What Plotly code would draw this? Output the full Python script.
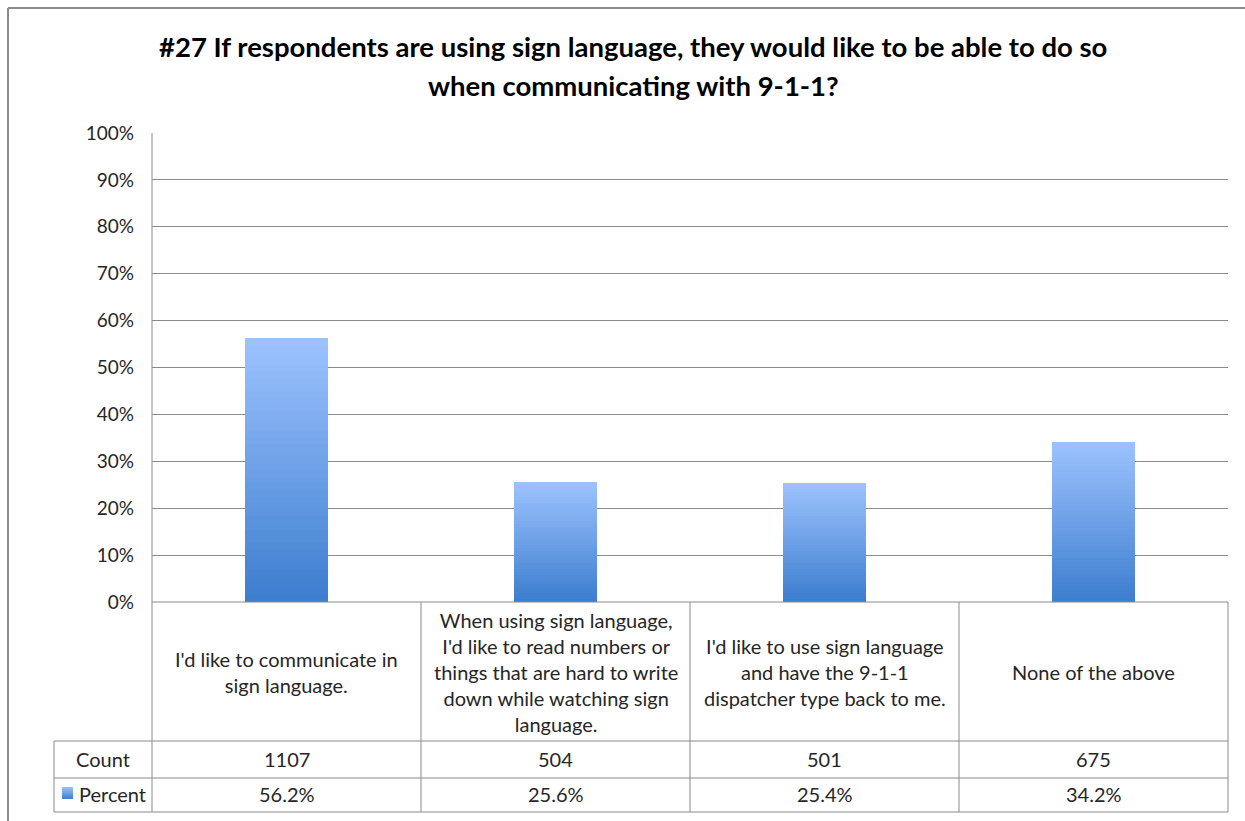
import plotly.graph_objects as go

# ---- data ----
categories = [
    "I'd like to communicate in<br>sign language.",
    "When using sign language,<br>I'd like to read numbers or<br>things that are hard to write<br>down while watching sign<br>language.",
    "I'd like to use sign language<br>and have the 9-1-1<br>dispatcher type back to me.",
    "None of the above",
]
counts = [1107, 504, 501, 675]
percents = [56.2, 25.6, 25.4, 34.2]
y_ticks = list(range(0, 101, 10))
title_lines = [
    "#27 If respondents are using sign language, they would like to be able to do so",
    "when communicating with 9-1-1?",
]
row_labels = ["Count", "Percent"]

W, H = 1245, 821
FONT = "Lato"
TXT = "#262626"
GRID = "#8a8a8a"

def px(x):
    return x / W

def py(y):
    return 1 - y / H

# plot-area geometry (pixels)
X0, X1 = 152, 1228
Y_TOP, Y_BOT = 133, 602
ROW_HDR_BOT, ROW_CNT_BOT, ROW_PCT_BOT = 741, 778, 812
TBL_LEFT = 54

fig = go.Figure()

# gradient bars: stacked slices of each bar
N = 40
top_c = (157, 195, 255)
bot_c = (60, 125, 206)
xs = list(range(len(categories)))
for i in range(N):
    t = (i + 0.5) / N
    c = tuple(round(bot_c[k] + (top_c[k] - bot_c[k]) * t) for k in range(3))
    fig.add_trace(go.Bar(
        x=xs,
        y=[v / N for v in percents],
        base=[v * i / N for v in percents],
        width=0.31,
        marker=dict(color="rgb(%d,%d,%d)" % c, line=dict(width=0)),
        showlegend=False,
        hoverinfo="skip",
    ))

shapes = []
def line(x0, y0, x1, y1, color=GRID, w=1):
    shapes.append(dict(type="line", xref="paper", yref="paper",
                       x0=px(x0), y0=py(y0), x1=px(x1), y1=py(y1),
                       line=dict(color=color, width=w)))

# outer chart border
line(8, 8, 1245, 8, "#8c8c8c", 2)
line(8, 8, 8, 821, "#8c8c8c", 2)

# table lines
line(X0, Y_BOT, X1, Y_BOT)
for yy in (ROW_HDR_BOT, ROW_CNT_BOT, ROW_PCT_BOT):
    line(TBL_LEFT, yy, X1, yy)
line(X0, Y_TOP, X0, ROW_PCT_BOT)
line(TBL_LEFT, ROW_HDR_BOT, TBL_LEFT, ROW_PCT_BOT)
colw = (X1 - X0) / len(categories)
for k in range(1, len(categories) + 1):
    xx = X0 + colw * k
    line(xx, Y_BOT, xx, ROW_PCT_BOT)

# legend key square (gradient like the bars)
KN = 6
for i in range(KN):
    t = (i + 0.5) / KN
    c = tuple(round(bot_c[k] + (top_c[k] - bot_c[k]) * t) for k in range(3))
    shapes.append(dict(type="rect", xref="paper", yref="paper",
                       x0=px(62), x1=px(73),
                       y0=py(799 - 12 * i / KN), y1=py(799 - 12 * (i + 1) / KN),
                       line=dict(width=0), fillcolor="rgb(%d,%d,%d)" % c))

annotations = []
# title (two lines)
for yy, tl in zip((47, 85), title_lines):
    annotations.append(dict(text="<b>%s</b>" % tl, xref="paper", yref="paper",
                            x=px(633), y=py(yy), xanchor="center", yanchor="middle",
                            showarrow=False, font=dict(family=FONT, size=27.5, color="#000000")))
TS = 20
# category header cells
for i, c in enumerate(categories):
    annotations.append(dict(text=c, xref="x", yref="paper", x=xs[i], y=py(671.5),
                            xanchor="center", yanchor="middle", showarrow=False,
                            font=dict(family=FONT, size=TS, color=TXT)))
    annotations.append(dict(text=str(counts[i]), xref="x", yref="paper", x=xs[i],
                            y=py(758.5), xanchor="center", yanchor="middle", showarrow=False,
                            font=dict(family=FONT, size=TS, color=TXT)))
    annotations.append(dict(text="%.1f%%" % percents[i], xref="x", yref="paper", x=xs[i],
                            y=py(794), xanchor="center", yanchor="middle", showarrow=False,
                            font=dict(family=FONT, size=TS, color=TXT)))
annotations.append(dict(text=row_labels[0], xref="paper", yref="paper", x=px(103), y=py(758.5),
                        xanchor="center", yanchor="middle", showarrow=False,
                        font=dict(family=FONT, size=TS, color=TXT)))
annotations.append(dict(text=row_labels[1], xref="paper", yref="paper", x=px(77), y=py(794),
                        xanchor="left", yanchor="middle", showarrow=False,
                        font=dict(family=FONT, size=TS, color=TXT)))

fig.update_layout(
    width=W, height=H,
    margin=dict(l=0, r=0, t=0, b=0, autoexpand=False),
    paper_bgcolor="white", plot_bgcolor="white",
    barmode="overlay", bargap=0,
    showlegend=False,
    shapes=shapes,
    annotations=annotations,
    xaxis=dict(domain=[px(X0), px(X1)], range=[-0.5, len(categories) - 0.5],
               showticklabels=False, showgrid=False, zeroline=False, showline=False,
               automargin=False, fixedrange=True),
    yaxis=dict(domain=[py(Y_BOT), py(Y_TOP)], range=[0, 100],
               tickvals=y_ticks, ticktext=["%d%%" % v for v in y_ticks],
               showgrid=True, gridcolor=GRID, gridwidth=1, zeroline=False,
               showline=False, ticks="", ticklabelstandoff=17, automargin=False,
               tickfont=dict(family=FONT, size=19, color=TXT), fixedrange=True),
)

fig.write_html("out.html")
